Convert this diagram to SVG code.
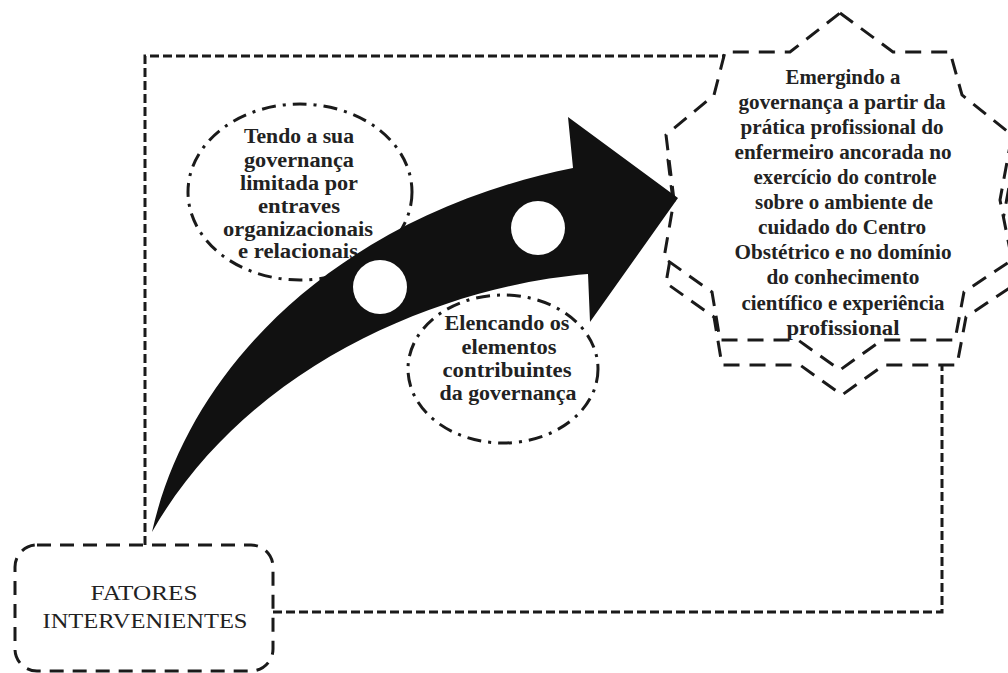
<svg xmlns="http://www.w3.org/2000/svg" width="1008" height="673" viewBox="0 0 1008 673">
<style>
.conn{fill:none;stroke:#1a1a1a;stroke-width:3;stroke-dasharray:9 4}
.box{fill:#fff;stroke:#1a1a1a;stroke-width:3;stroke-dasharray:14 9}
.star{fill:#fff;stroke:#1a1a1a;stroke-width:3;stroke-dasharray:16 10;stroke-linejoin:miter}
.ell{fill:none;stroke:#1a1a1a;stroke-width:3;stroke-dasharray:14 7 3 7}
.t{font-family:"Liberation Serif","Times New Roman",serif;fill:#222;text-anchor:middle}
.b{font-weight:bold;font-size:20px}
.r{font-size:22px}
</style>
<rect width="1008" height="673" fill="#fff"/>
<g id="connectors">
<polyline class="conn" points="145,545 145,56 725,56"/>
<polyline class="conn" points="273,612 942,612 942,365"/>
</g>
<g id="node-fatores">
<rect class="box" x="15" y="545" width="258" height="126" rx="22"/>
<text class="t r" x="144" y="600" textLength="107" lengthAdjust="spacingAndGlyphs">FATORES</text>
<text class="t r" x="145" y="628" textLength="205" lengthAdjust="spacingAndGlyphs">INTERVENIENTES</text>
</g>
<g id="node-limitada">
<ellipse class="ell" cx="300" cy="192" rx="112" ry="88"/>
<text class="t b" x="299" y="143" textLength="110" lengthAdjust="spacingAndGlyphs">Tendo a sua</text>
<text class="t b" x="299" y="167" textLength="110" lengthAdjust="spacingAndGlyphs">governança</text>
<text class="t b" x="299" y="190" textLength="118" lengthAdjust="spacingAndGlyphs">limitada por</text>
<text class="t b" x="299" y="213" textLength="82" lengthAdjust="spacingAndGlyphs">entraves</text>
<text class="t b" x="298" y="236" textLength="150" lengthAdjust="spacingAndGlyphs">organizacionais</text>
<text class="t b" x="298" y="258" textLength="120" lengthAdjust="spacingAndGlyphs">e relacionais</text>
</g>
<g id="node-elencando">
<ellipse class="ell" cx="503" cy="369" rx="95" ry="74"/>
<text class="t b" x="507" y="330" textLength="125" lengthAdjust="spacingAndGlyphs">Elencando os</text>
<text class="t b" x="509" y="354" textLength="95" lengthAdjust="spacingAndGlyphs">elementos</text>
<text class="t b" x="507" y="377" textLength="129" lengthAdjust="spacingAndGlyphs">contribuintes</text>
<text class="t b" x="508" y="400" textLength="137" lengthAdjust="spacingAndGlyphs">da governança</text>
</g>
<g id="node-emergindo">
<polygon class="star" transform="translate(2,25)" points="840,13 893,52 950,52 962,95 1012,135 1000,200 1012,260 964,292 955,340 882,340 840,370 798,340 720,340 712,292 664,258 674,200 666,135 714,95 725,52 790,52"/>
<polygon class="star" points="840,13 893,52 950,52 962,95 1012,135 1000,200 1012,260 964,292 955,340 882,340 840,370 798,340 720,340 712,292 664,258 674,200 666,135 714,95 725,52 790,52"/>
</g>
<g id="node-arrow">
<path fill="#111" d="M152,532 C190,362 345,214 573,168 L568,117 L678,198 L590,322 L588,274 C450,285 250,360 152,532 Z"/>
<circle cx="380" cy="287" r="27" fill="#fff"/>
<circle cx="538" cy="228" r="27" fill="#fff"/>
</g>
<g id="node-emergindo-text">
<text class="t b" x="843" y="84" textLength="115" lengthAdjust="spacingAndGlyphs">Emergindo a</text>
<text class="t b" x="842" y="109" textLength="207" lengthAdjust="spacingAndGlyphs">governança a partir da</text>
<text class="t b" x="842" y="134" textLength="203" lengthAdjust="spacingAndGlyphs">prática profissional do</text>
<text class="t b" x="843" y="159" textLength="217" lengthAdjust="spacingAndGlyphs">enfermeiro ancorada no</text>
<text class="t b" x="845" y="184" textLength="183" lengthAdjust="spacingAndGlyphs">exercício do controle</text>
<text class="t b" x="844" y="209" textLength="178" lengthAdjust="spacingAndGlyphs">sobre o ambiente de</text>
<text class="t b" x="842" y="234" textLength="168" lengthAdjust="spacingAndGlyphs">cuidado do Centro</text>
<text class="t b" x="843" y="259" textLength="217" lengthAdjust="spacingAndGlyphs">Obstétrico e no domínio</text>
<text class="t b" x="843" y="284" textLength="153" lengthAdjust="spacingAndGlyphs">do conhecimento</text>
<text class="t b" x="843" y="310" textLength="203" lengthAdjust="spacingAndGlyphs">científico e experiência</text>
<text class="t b" x="843" y="335" textLength="113" lengthAdjust="spacingAndGlyphs">profissional</text>
</g>
</svg>
